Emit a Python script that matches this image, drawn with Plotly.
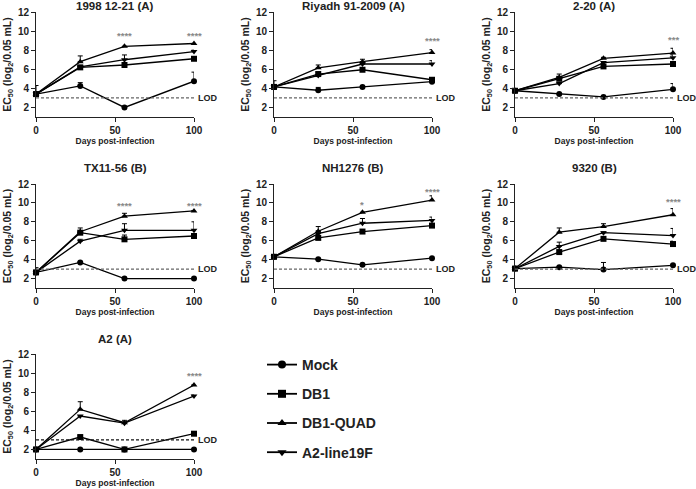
import plotly.graph_objects as go

# ---- data ----
days = [0, 28, 56, 100]
panel_titles = ["1998 12-21 (A)", "Riyadh 91-2009 (A)", "2-20 (A)",
                "TX11-56 (B)", "NH1276 (B)", "9320 (B)", "A2 (A)"]
series_names = ["Mock", "DB1", "DB1-QUAD", "A2-line19F"]

mock = [[3.4, 4.25, 2.0, 4.75], [4.15, 3.8, 4.15, 4.7], [3.75, 3.4, 3.1, 3.9],
        [2.65, 3.7, 2.0, 2.0], [4.3, 4.05, 3.45, 4.15], [3.05, 3.2, 2.95, 3.4],
        [2.0, 2.0, 2.0, 2.0]]
mock_err = [[0.9, 0.35, 0, 0.95], [0.65, 0.3, 0, 0.1], [0.1, 0, 0, 0.6],
            [0.5, 0.1, 0, 0], [0.2, 0, 0, 0], [0.1, 0.05, 0.75, 0.1],
            [0, 0, 0, 0]]
db1 = [[3.4, 6.2, 6.45, 7.1], [4.15, 5.5, 5.95, 4.9], [3.75, 5.0, 6.3, 6.55],
       [2.65, 6.85, 6.15, 6.5], [4.3, 6.3, 6.97, 7.6], [3.05, 4.8, 6.2, 5.65],
       [2.0, 3.3, 2.0, 3.65]]
db1_err = [[0, 0.1, 0.1, 0.1], [0, 0.2, 0.1, 0.1], [0, 0.2, 0.1, 0.15],
           [0, 0.15, 0.45, 0.2], [0, 0.1, 0.1, 0.1], [0, 0.2, 0.1, 0.3],
           [0, 0.15, 0, 0.1]]
quad = [[3.4, 6.8, 8.4, 8.7], [4.15, 6.15, 6.8, 7.75], [3.75, 5.15, 7.15, 7.7],
        [2.65, 6.95, 8.6, 9.15], [4.3, 7.0, 9.0, 10.3], [3.05, 6.9, 7.5, 8.75],
        [2.0, 6.2, 4.8, 8.75]]
quad_err = [[0, 0.6, 0, 0], [0, 0.3, 0.25, 0.3], [0, 0.35, 0.1, 0.5],
            [0, 0.4, 0.3, 0.05], [0, 0.5, 0, 0.45], [0, 0.45, 0.3, 0.65],
            [0, 0.8, 0.25, 0]]
a2line = [[3.4, 6.25, 7.0, 7.85], [4.15, 5.35, 6.55, 6.55], [3.75, 4.5, 6.7, 7.2],
          [2.65, 5.95, 7.1, 7.1], [4.3, 6.75, 7.85, 8.15], [3.05, 5.4, 6.85, 6.55],
          [2.0, 5.5, 4.75, 7.6]]
a2line_err = [[0, 0, 0.5, 0.15], [0, 0, 0, 0.35], [0, 0, 0.1, 0.3],
              [0, 0.2, 0.7, 0.9], [0, 0.3, 0.5, 0.35], [0, 0.45, 0.1, 0.75],
              [0, 0, 0.1, 0.1]]

lod = 3
# significance marks: (panel, day, text, height)
star_panel = [0, 0, 1, 2, 3, 3, 4, 4, 5, 6]
star_day = [56, 100, 100, 100, 56, 100, 56, 100, 100, 100]
star_text = ["****", "****", "****", "***", "****", "****", "*", "****", "****", "****"]
star_y = [9.5, 9.5, 9.0, 9.1, 9.7, 9.7, 9.85, 11.2, 10.1, 9.7]

# ---- layout geometry (pixels) ----
W, H = 696, 489
col_px = [(36, 194), (274, 432), (515, 673)]
row_px = [(12, 117), (184, 288), (354, 459)]
title_px = [6, 168, 339]

FONT = "Liberation Sans, Arial, sans-serif"
INK = "#222222"
symbols = ["circle", "square", "triangle-up", "triangle-down"]
all_vals = [mock, db1, quad, a2line]
all_errs = [mock_err, db1_err, quad_err, a2line_err]

fig = go.Figure()
annotations = []
shapes = []

for p, title in enumerate(panel_titles):
    r, c = divmod(p, 3)
    ax = "" if p == 0 else str(p + 1)
    for s in range(4):
        fig.add_trace(go.Scatter(
            x=days, y=all_vals[s][p], xaxis="x" + ax, yaxis="y" + ax,
            mode="lines+markers", showlegend=False, cliponaxis=False,
            line=dict(color="black", width=1.3),
            marker=dict(symbol=symbols[s], size=6, color="black"),
            error_y=dict(type="data", array=all_errs[s][p], symmetric=False,
                         arrayminus=[0] * len(days), color="black",
                         thickness=1, width=2.5),
        ))
    x0, x1 = col_px[c]
    y0, y1 = row_px[r]
    fig.layout["xaxis" + ax] = dict(
        domain=[x0 / W, x1 / W], anchor="y" + ax, range=[0, 100],
        automargin=False,
        tickvals=[0, 50, 100], ticks="outside", ticklen=4, tickwidth=1,
        tickcolor=INK, showline=True, linecolor=INK, linewidth=1,
        showgrid=False, zeroline=False,
        tickfont=dict(size=10, family=FONT, color=INK, weight="bold"),
        title=dict(text="Days post-infection", standoff=0,
                   font=dict(size=8.5, family=FONT, color=INK, weight="bold")),
    )
    fig.layout["yaxis" + ax] = dict(
        domain=[1 - y1 / H, 1 - y0 / H], anchor="x" + ax, range=[1, 12],
        automargin=False,
        tickvals=[2, 4, 6, 8, 10, 12], ticks="outside", ticklen=4, tickwidth=1,
        tickcolor=INK, showline=True, linecolor=INK, linewidth=1,
        showgrid=False, zeroline=False,
        tickfont=dict(size=10, family=FONT, color=INK, weight="bold"),
        title=dict(text="EC<sub>50</sub> (log<sub>2</sub>/0.05 mL)", standoff=4,
                   font=dict(size=10.5, family=FONT, color=INK, weight="bold")),
    )
    # panel title
    annotations.append(dict(
        text=title, xref="paper", yref="paper", x=(x0 + x1) / 2 / W,
        y=1 - title_px[r] / H, xanchor="center", yanchor="middle",
        showarrow=False, font=dict(size=11.5, family=FONT, color=INK, weight="bold")))
    # limit of detection
    lod_col = "#111111" if p == 6 else "#666666"
    shapes.append(dict(type="line", xref="x" + ax, yref="y" + ax,
                       x0=0, x1=100, y0=lod, y1=lod,
                       line=dict(color=lod_col, width=1.2, dash="3px,2px")))
    annotations.append(dict(
        text="LOD", xref="x" + ax, yref="y" + ax, x=100, y=lod,
        xanchor="left", yanchor="middle", xshift=2, showarrow=False,
        font=dict(size=9, family=FONT, color=INK, weight="bold")))

for p, d, t, yv in zip(star_panel, star_day, star_text, star_y):
    ax = "" if p == 0 else str(p + 1)
    annotations.append(dict(
        text=t, xref="x" + ax, yref="y" + ax, x=d, y=yv, showarrow=False,
        xanchor="center", yanchor="middle",
        font=dict(size=9.5, family=FONT, color="#888888", weight="bold")))

# legend entries
for s, name in enumerate(series_names):
    fig.add_trace(go.Scatter(
        x=[None], y=[None], name=name, legendgroup=name, mode="lines+markers",
        line=dict(color="black", width=1.8),
        marker=dict(symbol=symbols[s], size=8, color="black"),
    ))

fig.update_layout(
    width=W, height=H,
    margin=dict(l=0, r=0, t=0, b=0),
    paper_bgcolor="white", plot_bgcolor="white",
    font=dict(family=FONT, color=INK),
    annotations=annotations, shapes=shapes,
    showlegend=True,
    legend=dict(x=262 / W, y=1 - 349 / H, xanchor="left", yanchor="top",
                font=dict(size=14, family=FONT, color=INK, weight="bold"),
                tracegroupgap=8, bgcolor="rgba(0,0,0,0)", itemwidth=30),
)

# drop the browser's default 8px page margin so the figure fills the window
fig.write_html("out.html", config={"displayModeBar": False},
               post_script="document.body.style.margin='0';")
